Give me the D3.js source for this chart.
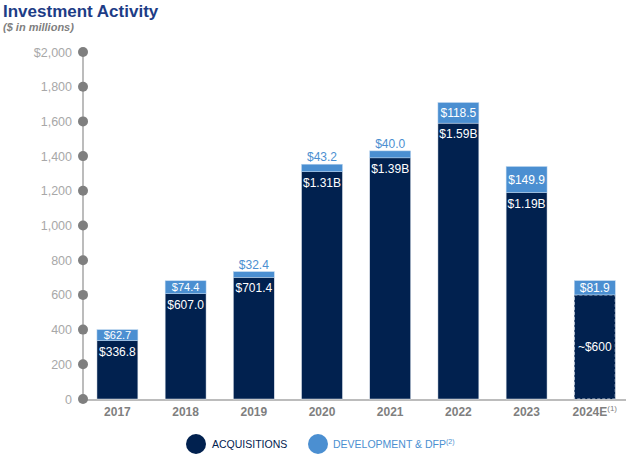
<!DOCTYPE html>
<html><head><meta charset="utf-8">
<script src="https://cdn.jsdelivr.net/npm/d3@7/dist/d3.min.js"></script>
<style>body{margin:0;background:#fff}svg{display:block}</style>
</head><body><svg id="c" width="640" height="459"></svg>
<script>
const years = ["2017","2018","2019","2020","2021","2022","2023","2024E"];
const acquisitions = [336.8, 607.0, 701.4, 1310, 1390, 1590, 1190, 600];
const development = [62.7, 74.4, 32.4, 43.2, 40.0, 118.5, 149.9, 81.9];
const acqLabels = ["$336.8","$607.0","$701.4","$1.31B","$1.39B","$1.59B","$1.19B","~$600"];
const devLabels = ["$62.7","$74.4","$32.4","$43.2","$40.0","$118.5","$149.9","$81.9"];
const yTicks = [0,200,400,600,800,1000,1200,1400,1600,1800,2000];
const estimateIndex = 7;

const NAVY = "#01214f", BLUE = "#4b8fd1", GRAY = "#7f7f7f";
const font = "'Liberation Sans', Arial, sans-serif";
const svg = d3.select("#c").style("font-family", font);

const y = d3.scaleLinear().domain([0,2000]).range([399,52]);
const x = d3.scaleBand().domain(years).range([76.5,635.7]).paddingInner(0.4).paddingOuter(0.3);

// title
svg.append("text").attr("x",3).attr("y",17).attr("font-size",17).attr("font-weight","bold")
  .attr("fill","#1d3c86").text("Investment Activity");
svg.append("text").attr("x",3).attr("y",31).attr("font-size",11).attr("font-weight","bold")
  .attr("font-style","italic").attr("fill","#7f7f7f").text("($ in millions)");

// axis
const axisX = 83;
svg.append("line").attr("x1",axisX).attr("x2",axisX).attr("y1",y(2000)).attr("y2",y(0))
  .attr("stroke","#a6a6a6").attr("stroke-width",1.5);
svg.append("line").attr("x1",axisX).attr("x2",626).attr("y1",y(0)+1).attr("y2",y(0)+1)
  .attr("stroke","#a6a6a6").attr("stroke-width",1.5);
svg.selectAll(".yt").data(yTicks).join("circle").attr("cx",axisX).attr("cy",d=>y(d))
  .attr("r",5).attr("fill",GRAY);
svg.selectAll(".yl").data(yTicks).join("text").attr("x",72).attr("y",d=>y(d)+4.5)
  .attr("text-anchor","end").attr("font-size",12.5).attr("fill","#a8a8a8")
  .text(d => d===2000 ? "$2,000" : d3.format(",")(d));

// bars
const g = svg.append("g");
years.forEach((yr,i)=>{
  const bx = x(yr), bw = x.bandwidth(), cx = bx+bw/2;
  const a = acquisitions[i], dv = development[i];
  const est = i===estimateIndex;
  g.append("rect").attr("x",bx).attr("y",y(a)).attr("width",bw).attr("height",y(0)-y(a))
    .attr("fill",NAVY).attr("stroke", est ? "#c8d0dc" : "#dfe6ef").attr("stroke-width", est?1:0.5)
    .attr("stroke-dasharray", est ? "3,2" : null);
  g.append("rect").attr("x",bx).attr("y",y(a+dv)).attr("width",bw).attr("height",y(a)-y(a+dv))
    .attr("fill",BLUE).attr("stroke","#b9d4ee").attr("stroke-width",0.5);
  // acquisition label
  g.append("text").attr("x",cx).attr("y", est ? (y(a)+y(0))/2+4 : y(a)+15)
    .attr("text-anchor","middle").attr("font-size",12).attr("fill","#fff").text(acqLabels[i]);
  // dev label
  const h = y(a)-y(a+dv);
  if (h >= 10) {
    const fs = h < 14 ? 11 : 12;
    g.append("text").attr("x",cx).attr("y",(y(a)+y(a+dv))/2+fs*0.36)
      .attr("text-anchor","middle").attr("font-size",fs).attr("fill","#fff").text(devLabels[i]);
  } else {
    g.append("text").attr("x",cx).attr("y",y(a+dv)-3)
      .attr("text-anchor","middle").attr("font-size",12).attr("fill",BLUE).text(devLabels[i]);
  }
  // x label
  const t = g.append("text").attr("x",cx).attr("y",416).attr("text-anchor","middle")
    .attr("font-size",12).attr("font-weight","bold").attr("fill",GRAY);
  t.append("tspan").text(yr);
  if (est) t.append("tspan").attr("font-size",8).attr("font-weight","normal").attr("dy",-5).text("(1)");
});

// legend
svg.append("circle").attr("cx",196).attr("cy",444).attr("r",10).attr("fill",NAVY);
svg.append("text").attr("x",212).attr("y",448).attr("font-size",10.5).attr("fill",NAVY).text("ACQUISITIONS");
svg.append("circle").attr("cx",318).attr("cy",444).attr("r",10).attr("fill",BLUE);
const lt = svg.append("text").attr("x",333).attr("y",448).attr("font-size",10.5).attr("fill",BLUE);
lt.append("tspan").text("DEVELOPMENT & DFP");
lt.append("tspan").attr("font-size",7).attr("dy",-4).text("(2)");
</script></body></html>
